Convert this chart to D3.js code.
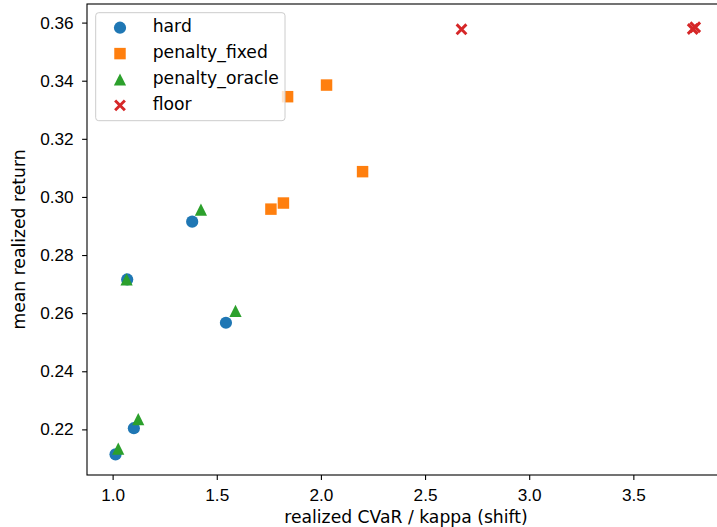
<!DOCTYPE html>
<html>
<head>
<meta charset="utf-8">
<script src="https://cdn.jsdelivr.net/npm/d3@7"></script>
<style>
  body { margin: 0; background: #fff; }
  svg { display: block; font-family: "DejaVu Sans", sans-serif; }
  .tick text { font-size: 17.2px; fill: #000; }
  .tick line, .domain { stroke: #000; stroke-width: 1.1px; }
</style>
</head>
<body>
<div id="chart"></div>
<script>
'use strict'

// series values
var hardX = [1.014, 1.070, 1.102, 1.382, 1.544]
var hardY = [0.2114, 0.2716, 0.2204, 0.2915, 0.2567]
var fixedX = [1.760, 1.820, 1.840, 2.027, 2.200]
var fixedY = [0.2958, 0.2979, 0.3345, 0.3385, 0.3087]
var oracleX = [1.027, 1.067, 1.123, 1.424, 1.590]
var oracleY = [0.2134, 0.2716, 0.2235, 0.2956, 0.2608]
var floorX = [2.675, 3.785, 3.797]
var floorY = [0.3577, 0.3578, 0.3584]

var seriesNames = ["hard", "penalty_fixed", "penalty_oracle", "floor"]
var colors = ["#1f77b4", "#ff7f0e", "#2ca02c", "#d62728"]
var xTicks = [1.0, 1.5, 2.0, 2.5, 3.0, 3.5]
var yTicks = [0.22, 0.24, 0.26, 0.28, 0.30, 0.32, 0.34, 0.36]

var width = 717
var height = 527
var fontSize = "17.2px"
var margin = {left: 87, top: 4, right: 725, bottom: 475}  // plot box edges (right edge runs off the window)

const svg = d3.select("#chart")
              .append("svg")
              .attr("width", width)
              .attr("height", height)

var xScale = d3.scaleLinear().domain([0.877, 3.94]).range([margin.left, margin.right])
var yScale = d3.scaleLinear().domain([0.2043, 0.3664]).range([margin.bottom, margin.top])

// marker path generators, centred on 0,0
var S = 12.2
function markerPath(kind){
    var h = S / 2
    if (kind == 0) return d3.symbol().type(d3.symbolCircle).size(Math.PI * h * h)()
    if (kind == 1) { var q = S * 0.47; return "M" + (-q) + "," + (-q) + "H" + q + "V" + q + "H" + (-q) + "Z" }
    if (kind == 2) return "M0," + (-h) + "L" + h + "," + h + "L" + (-h) + "," + h + "Z"
    var k = S * 0.4
    return "M" + (-k) + "," + (-k) + "L" + k + "," + k + "M" + (-k) + "," + k + "L" + k + "," + (-k)
}

function drawMarker(g, kind){
    var p = g.append("path").attr("d", markerPath(kind))
    if (kind == 3) p.attr("fill", "none").attr("stroke", colors[kind]).attr("stroke-width", 2.9)
    else p.attr("fill", colors[kind])
    return p
}

// axes
svg.append("g")
   .attr("transform", "translate(0," + margin.bottom + ")")
   .call(d3.axisBottom(xScale).tickValues(xTicks).tickFormat(d3.format(".1f")).tickSize(4.9).tickPadding(9).tickSizeOuter(0))
   .call(g => g.select(".domain").remove())

svg.append("g")
   .attr("transform", "translate(" + margin.left + ",0)")
   .call(d3.axisLeft(yScale).tickValues(yTicks).tickFormat(d3.format(".2f")).tickSize(4.9).tickPadding(8.5).tickSizeOuter(0))
   .call(g => g.select(".domain").remove())

// points
var series = [[hardX, hardY], [fixedX, fixedY], [oracleX, oracleY], [floorX, floorY]]
series.forEach(function(s, k){
    s[0].forEach(function(xv, i){
        var g = svg.append("g").attr("transform", "translate(" + xScale(xv) + "," + yScale(s[1][i]) + ")")
        drawMarker(g, k)
    })
})

// spines
svg.append("rect")
   .attr("x", margin.left).attr("y", margin.top)
   .attr("width", margin.right - margin.left).attr("height", margin.bottom - margin.top)
   .attr("fill", "none").attr("stroke", "#000").attr("stroke-width", 1.1)

// legend
var legend = svg.append("g")
legend.append("rect")
      .attr("x", 95.7).attr("y", 12.7)
      .attr("width", 189.3).attr("height", 108)
      .attr("rx", 3).attr("ry", 3)
      .attr("fill", "#fff").attr("fill-opacity", 0.8)
      .attr("stroke", "#cccccc").attr("stroke-width", 1)

seriesNames.forEach(function(name, i){
    var base = 32.3 + i * 25.9
    var g = legend.append("g").attr("transform", "translate(120," + (base - 4.6) + ")")
    drawMarker(g, i)
    legend.append("text")
          .attr("x", 152.7).attr("y", base)
          .attr("font-size", fontSize)
          .text(name)
})

// axis labels
svg.append("text")
   .attr("x", (margin.left + margin.right) / 2)
   .attr("y", 523)
   .attr("text-anchor", "middle")
   .attr("font-size", fontSize)
   .text("realized CVaR / kappa (shift)")

svg.append("text")
   .attr("transform", "translate(25," + ((margin.top + margin.bottom) / 2) + ") rotate(-90)")
   .attr("text-anchor", "middle")
   .attr("font-size", fontSize)
   .text("mean realized return")
</script>
</body>
</html>
